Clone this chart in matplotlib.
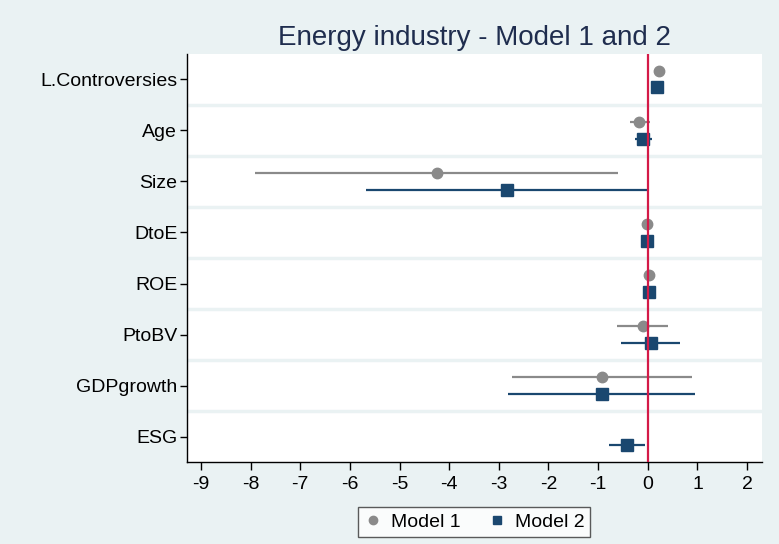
import matplotlib
matplotlib.use("Agg")
import matplotlib.pyplot as plt
import numpy as np

plt.rcParams['font.family'] = ['Liberation Sans', 'DejaVu Sans']

variables = ["L.Controversies", "Age", "Size", "DtoE", "ROE", "PtoBV", "GDPgrowth", "ESG"]

# Model 1 (no ESG)
m1_coef = [0.22, -0.17, -4.25, -0.02, 0.03, -0.10, -0.93, np.nan]
m1_lo   = [0.15, -0.36, -7.92, -0.06, -0.01, -0.62, -2.74, np.nan]
m1_hi   = [0.29, 0.04, -0.60, 0.02, 0.07, 0.41, 0.89, np.nan]

# Model 2
m2_coef = [0.18, -0.09, -2.84, -0.01, 0.02, 0.06, -0.93, -0.42]
m2_lo   = [0.10, -0.26, -5.68, -0.05, -0.02, -0.54, -2.82, -0.79]
m2_hi   = [0.26, 0.08, 0.00, 0.03, 0.06, 0.65, 0.95, -0.06]

xticks = list(range(-9, 3))

bg = "#EAF2F3"
navy = "#1A476F"
gray = "#8A8A8A"
red = "#D41A48"
title_col = "#1F2D4E"

fig = plt.figure(figsize=(7.79, 5.44), dpi=100, facecolor=bg)
ax = fig.add_axes([187/779, 1-462/544, (762-187)/779, (462-54)/544])
ax.set_facecolor("white")

ypos = np.arange(len(variables))
off = 0.165

for i in range(len(variables)):
    if not np.isnan(m1_coef[i]):
        ax.plot([m1_lo[i], m1_hi[i]], [ypos[i]-off]*2, color=gray, lw=1.6, zorder=3, solid_capstyle='butt')
    ax.plot([m2_lo[i], m2_hi[i]], [ypos[i]+off]*2, color=navy, lw=1.6, zorder=3, solid_capstyle='butt')

ax.plot(m1_coef, ypos-off, 'o', color=gray, ms=7.5, mec=gray, zorder=4, label="Model 1", linestyle='none')
ax.plot(m2_coef, ypos+off, 's', color=navy, ms=8, mec=navy, zorder=4, label="Model 2", linestyle='none')

ax.axvline(0, color=red, lw=1.6, zorder=5)

for g in np.arange(0.5, len(variables)-0.5, 1):
    ax.axhline(g, color=bg, lw=2.5, zorder=1)

ax.set_xlim(-9.28, 2.30)
ax.set_ylim(len(variables)-0.51, -0.49)
ax.set_yticks(ypos)
ax.set_yticklabels(variables, fontsize=14)
ax.set_xticks(xticks)
ax.set_xticklabels([str(t) for t in xticks], fontsize=14)

for s in ['top', 'right']:
    ax.spines[s].set_visible(False)
ax.spines['left'].set_color('black')
ax.spines['bottom'].set_color('black')
ax.spines['left'].set_linewidth(1.0)
ax.spines['bottom'].set_linewidth(1.0)
ax.tick_params(axis='y', length=5, width=1, color='black', labelcolor='black', pad=2)
ax.tick_params(axis='x', length=6, width=1, color='black', labelcolor='black', pad=4)

ax.set_title("Energy industry - Model 1 and 2", fontsize=20, color=title_col, pad=6.5)

leg = fig.legend(loc='center', bbox_to_anchor=(474/779, 1-522/544), ncol=2, frameon=True,
                 fontsize=14, handletextpad=0.4, columnspacing=1.4, borderpad=0.3,
                 handlelength=1.0, fancybox=False, markerscale=0.8)
leg.get_frame().set_edgecolor('#333333')
leg.get_frame().set_linewidth(1.0)
leg.get_frame().set_facecolor('white')

fig.savefig("out.png", dpi=100, facecolor=bg)
